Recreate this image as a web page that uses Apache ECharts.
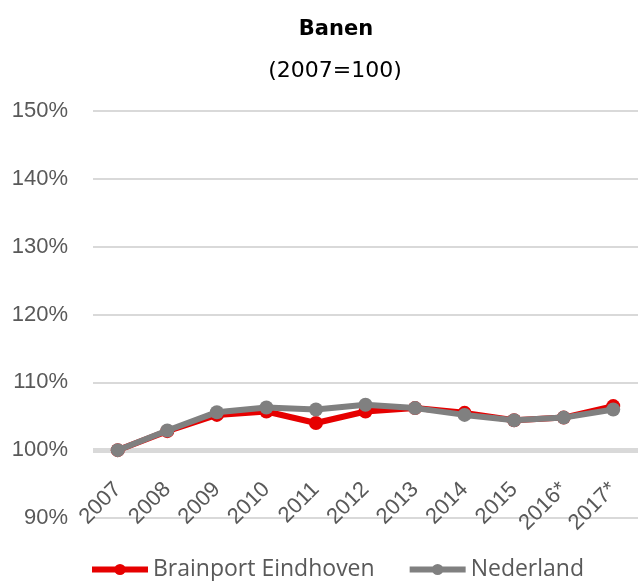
<!DOCTYPE html>
<html>
<head>
<meta charset="utf-8">
<script src="https://cdn.jsdelivr.net/npm/echarts@6/dist/echarts.min.js"></script>
<style>
  html, body { margin: 0; padding: 0; background: #fff; }
  #chart { width: 638px; height: 581px; }
</style>
</head>
<body>
<div id="chart"></div>
<script>
// Banen index (2007 = 100)
const years = ['2007', '2008', '2009', '2010', '2011', '2012', '2013', '2014', '2015', '2016*', '2017*'];
const brainport = [100, 102.8, 105.2, 105.7, 104.0, 105.7, 106.2, 105.5, 104.4, 104.8, 106.5];
const nederland = [100, 102.9, 105.6, 106.3, 106.0, 106.7, 106.2, 105.2, 104.4, 104.8, 106.0];
const yTicks = { min: 90, max: 150, step: 10 };
const baseline = 100;

const labelColor = '#595959';
const gridColor = '#d9d9d9';
const red = '#e60000';
const grey = '#808080';

const chart = echarts.init(document.getElementById('chart'));
chart.setOption({
  animation: false,
  title: [
    {
      text: 'Banen',
      left: 336, top: 19, padding: 0, textAlign: 'center',
      textStyle: { fontFamily: 'DejaVu Sans', fontWeight: 'bold', fontSize: 21, color: '#000' }
    },
    {
      text: '(2007=100)',
      left: 335, top: 60, padding: 0, textAlign: 'center',
      textStyle: { fontFamily: 'DejaVu Sans', fontWeight: 'normal', fontSize: 22, color: '#000' }
    }
  ],
  legend: {
    left: 89, top: 558, padding: 0,
    itemWidth: 56, itemHeight: 14, itemGap: 32,
    lineStyle: { width: 6 },
    textStyle: { fontFamily: 'Open Sans', fontSize: 23, color: labelColor },
    data: ['Brainport Eindhoven', 'Nederland']
  },
  grid: { left: 93, top: 111, width: 551, height: 407, containLabel: false },
  xAxis: {
    type: 'category',
    data: years,
    boundaryGap: true,
    axisLine: { show: false },
    axisTick: { show: false },
    axisLabel: {
      rotate: 45, margin: -32, interval: 0, verticalAlign: 'middle',
      fontFamily: 'Liberation Sans', fontSize: 22, color: labelColor
    }
  },
  yAxis: {
    type: 'value',
    min: yTicks.min, max: yTicks.max, interval: yTicks.step,
    axisLine: { show: false },
    axisTick: { show: false },
    axisLabel: {
      margin: 25, fontFamily: 'Liberation Sans', fontSize: 22, color: labelColor,
      formatter: v => v + '%'
    },
    splitLine: { lineStyle: { color: gridColor, width: 2 } }
  },
  series: [
    {
      name: 'Brainport Eindhoven',
      type: 'line',
      data: brainport,
      color: red,
      lineStyle: { width: 6, color: red },
      symbol: 'circle', symbolSize: 14,
      itemStyle: { color: red },
      z: 3,
      markLine: {
        silent: true, symbol: 'none', label: { show: false },
        lineStyle: { color: gridColor, width: 5, type: 'solid' },
        data: [{ yAxis: baseline }],
        z: 1
      }
    },
    {
      name: 'Nederland',
      type: 'line',
      data: nederland,
      color: grey,
      lineStyle: { width: 6, color: grey },
      symbol: 'circle', symbolSize: 14,
      itemStyle: { color: grey },
      z: 4
    }
  ]
});
</script>
</body>
</html>
